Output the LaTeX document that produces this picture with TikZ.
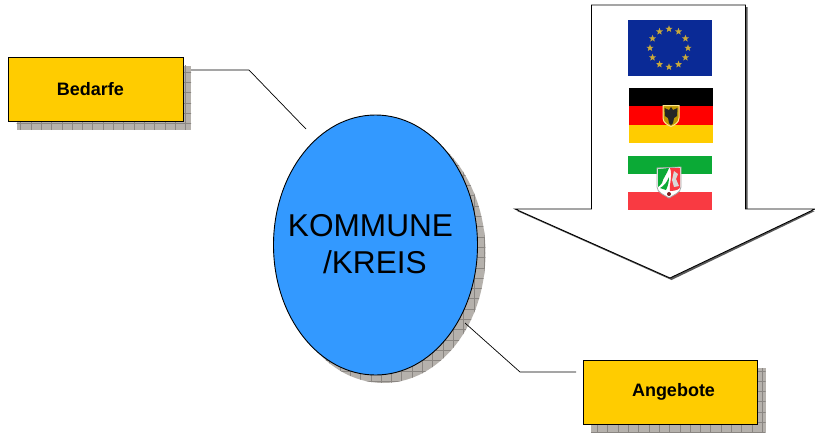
\documentclass[tikz,border=0pt]{standalone}
\usepackage{fontspec}
\usepackage{xcolor}
\setmainfont{Liberation Sans}
\usetikzlibrary{shapes.geometric}

\definecolor{boxgold}{HTML}{FFCC00}
\definecolor{kommuneblue}{HTML}{3399FF}
\definecolor{shadowgray}{HTML}{B5B1AC}
\definecolor{gridgray}{HTML}{8A8682}
\definecolor{eublue}{HTML}{0A2A96}
\definecolor{eustar}{HTML}{C9A93A}
\definecolor{nrwgreen}{HTML}{0BAA36}
\definecolor{nrwred}{HTML}{F93A42}

\tikzset{
    themebox/.style={draw=black, fill=boxgold, line width=0.9pt, minimum width=174.5pt, minimum height=64pt, inner sep=0pt, font=\bfseries\fontsize{18}{20}\selectfont},
    link/.style={draw=black, line width=0.7pt},
    flagstar/.style={star, star points=5, star point ratio=2.4, fill=eustar, inner sep=0pt, minimum size=7.5pt}
}

% shadow with its grid lines
\newcommand{\gridshadow}[1]{
    \fill[shadowgray] #1;
    \begin{scope}
        \clip #1;
        \draw[gridgray, line width=0.5pt, step=10.3pt, yscale=-1] (0,-440) grid (820,0);
    \end{scope}
}

\begin{document}
\begin{tikzpicture}[x=1pt,y=-1pt]
    \useasboundingbox (0,0) rectangle (815,432);
    % shadows
    \gridshadow{(16.5,65.5) rectangle (191,129.5)}
    \gridshadow{(591,368) rectangle (765.5,432)}
    \gridshadow{(383.5,253) ellipse [x radius=102, y radius=130]}
    % arrow
    \fill[black!65] (593.5,7) -- (747.5,7) -- (747.5,211) -- (815,211) -- (671.5,280) -- (517,211) -- (593.5,211) -- cycle;
    \draw[black, fill=white, line width=0.9pt] (591.5,5) -- (745.5,5) -- (745.5,209) -- (815,209) -- (670,278) -- (515,209) -- (591.5,209) -- cycle;
    % nodes
    \node[themebox] (bedarfe) at (96,89.5) {\hspace*{-11pt}Bedarfe};
    \node[themebox] (angebote) at (670.5,392) {\hspace*{6pt}Angebote};
    \node[ellipse, draw=black, fill=kommuneblue, line width=0.9pt, minimum width=204pt, minimum height=260pt, inner sep=0pt] (kommune) at (375.5,245) {};
    \node[align=center, font=\fontsize{31.6}{37}\selectfont] (kommunetext) at (370.5,244) {KOMMUNE\\\hspace*{8.8pt}/KREIS};
    % connectors
    \coordinate (bedarfeout) at (191,70);
    \coordinate (bedarfein) at (306,129);
    \coordinate (angeboteout) at (465,323);
    \coordinate (angebotein) at (576,372);
    \draw[link] (bedarfeout) -- (249,70) -- (bedarfein);
    \draw[link] (angeboteout) -- (520,372) -- (angebotein);
    % EU flag
    \fill[eublue] (628,20) rectangle (712,76);
    \foreach \a in {0,30,...,330}
        \node[flagstar] (eustar\a) at ({669+19*cos(\a)},{48+19*sin(\a)}) {};
    % German flag
    \fill[black] (629,88) rectangle (713,106);
    \fill[red] (629,106) rectangle (713,124.5);
    \fill[boxgold] (629,124.5) rectangle (713,143);
    \draw[fill=boxgold!75!black, draw=boxgold!45!white, line width=1pt] (663,105.5) -- (679,105.5) -- (679,118) .. controls (679,123) and (674,125) .. (671,126.5) .. controls (668,125) and (663,123) .. (663,118) -- cycle;
    \fill[black!85] (671,107) -- (673,110) -- (677.5,108) -- (677,116) -- (674,118) -- (673,123) -- (671,125) -- (669,123) -- (668,118) -- (665,116) -- (664.5,108) -- (669,110) -- cycle;
    % NRW flag
    \fill[nrwgreen] (628,156) rectangle (712,174);
    \fill[nrwred] (628,192) rectangle (712,210);
    \draw[fill=white, draw=black!35, line width=0.8pt] (657,168) -- (681,167) -- (681,187) .. controls (681,193) and (673,195) .. (669,198) .. controls (665,195) and (657,193) .. (657,187) -- cycle;
    \fill[nrwgreen] (658,169) -- (669,168) .. controls (667,174) and (663,178) .. (662,183) .. controls (661,185) and (659,186) .. (658,187) -- cycle;
    \fill[nrwgreen] (669,177) .. controls (669,182) and (668,186) .. (666,190) -- (660,188) .. controls (664,186) and (667,182) .. (669,177) -- cycle;
    \fill[nrwred] (670,168) -- (680,168) -- (680,187) .. controls (680,189) and (676,191) .. (670,191) .. controls (669,183) and (673,176) .. (670,168) -- cycle;
    \fill[black!15] (674,171) -- (678,174) -- (676,179) -- (679,186) -- (674,187) -- (672,180) -- cycle;
    \fill[nrwred!50!black] (669,194) circle (2);
\end{tikzpicture}
\end{document}
